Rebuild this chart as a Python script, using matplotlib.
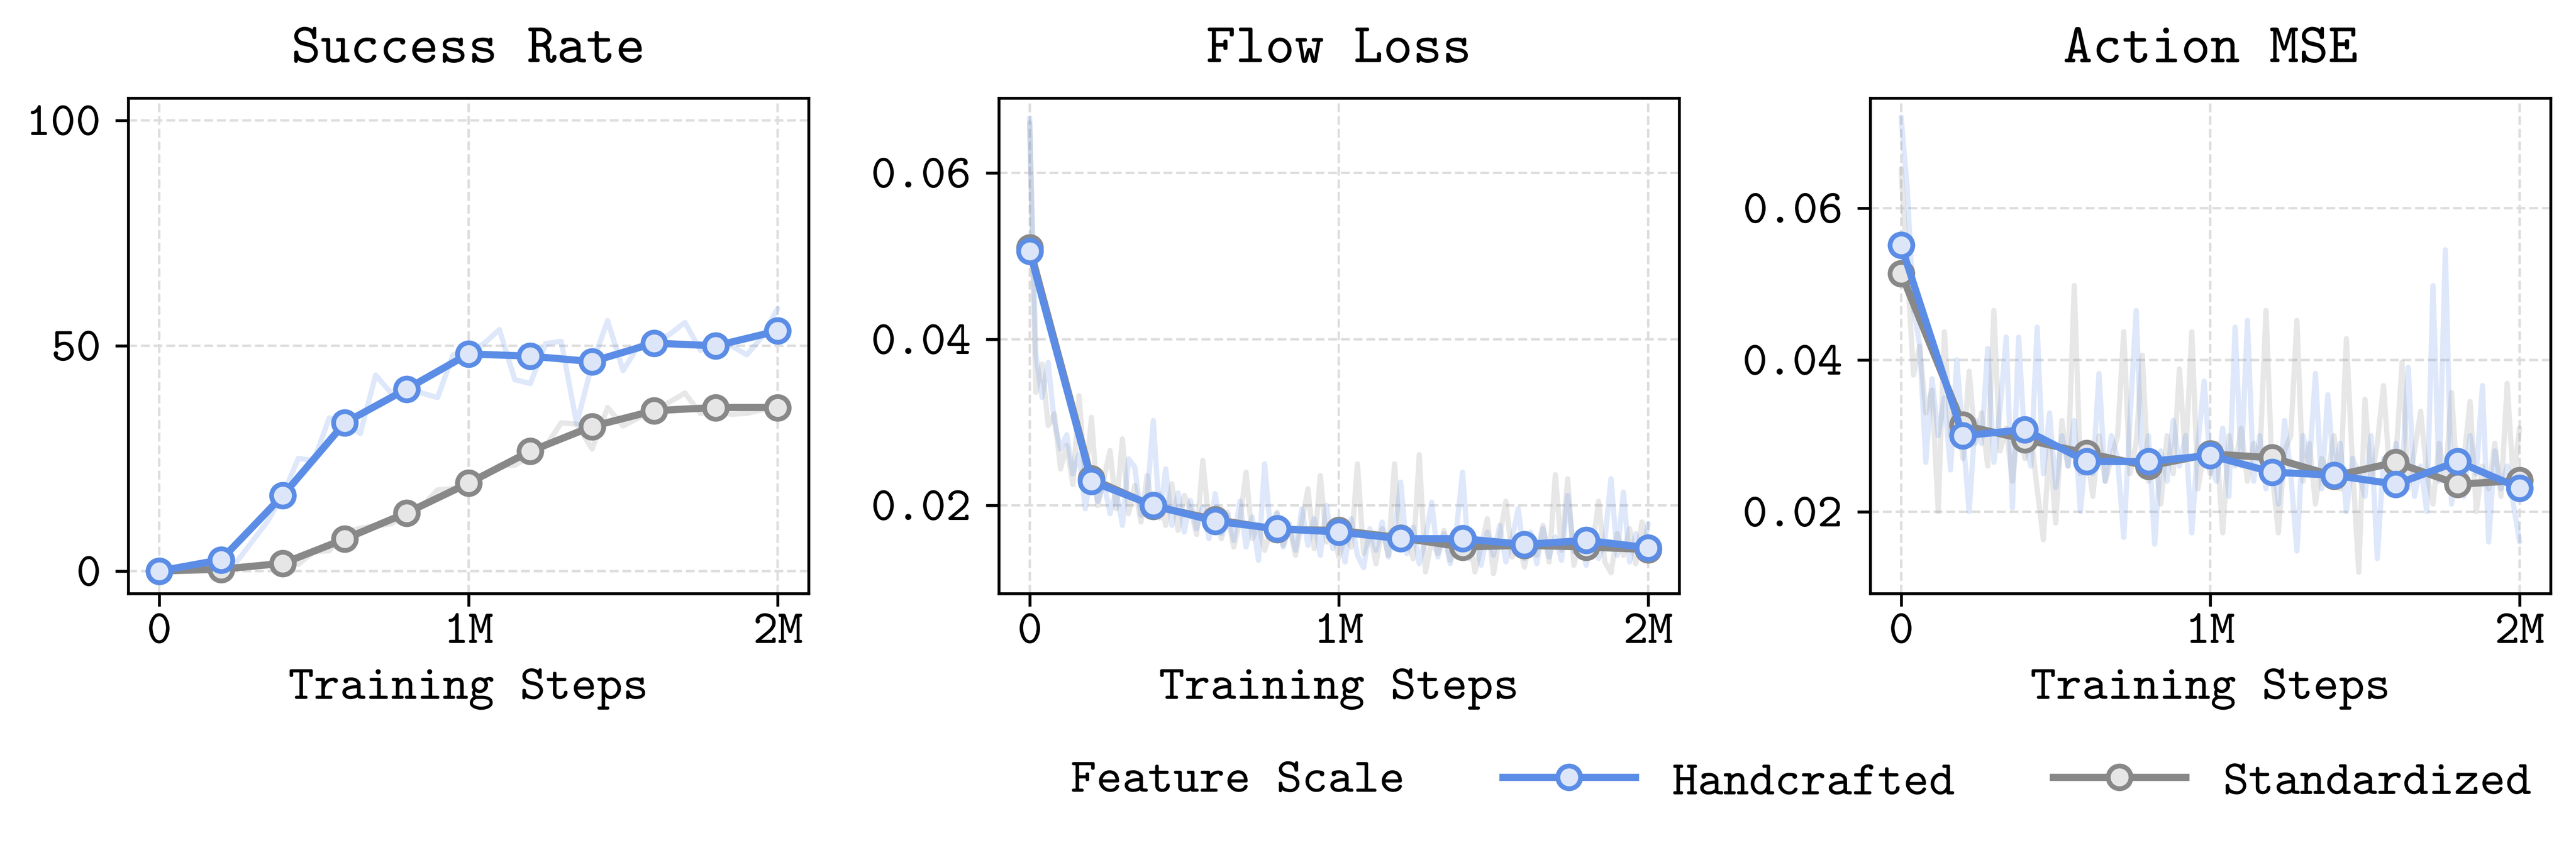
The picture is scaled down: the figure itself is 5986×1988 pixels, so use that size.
import numpy as np
import matplotlib.pyplot as plt
from matplotlib.lines import Line2D

plt.rcParams['font.family'] = 'cmtt10'
plt.rcParams['axes.unicode_minus'] = False

# ---- data ----
eval_steps = np.arange(0, 2_000_001, 200_000)
sr_steps = np.arange(0, 2_000_001, 50_000)
loss_steps = np.arange(0, 2_000_001, 20_000)

# success rate (%), smoothed points
sr_hand = [0, 2.5, 16.8, 32.9, 40.4, 48.2, 47.7, 46.5, 50.6, 50.0, 53.3]
sr_std = [0, 0.4, 1.7, 7.1, 12.9, 19.5, 26.6, 32.1, 35.6, 36.3, 36.3]

# success rate (%), raw evaluations
sr_hand_raw = [0, 0, 0, 0.5, 0.5, 2, 6.5, 11, 17, 25, 24.5, 34, 33, 30.5, 43.5, 39.5,
               41.5, 39.5, 38.5, 48, 48.5, 50.5, 53.6, 42.5, 41.6, 50.5, 51, 32.7, 46,
               55.6, 44.5, 50, 51, 52.5, 55.2, 49, 50.5, 50, 48, 52, 58.3]
sr_std_raw = [0, 0, 0, 0.3, 0.6, 0.8, 1.1, 1.5, 2, 1.5, 4.3, 4.5, 8.5, 9.5, 10, 10.5,
              12.4, 14.3, 18, 18.3, 19.5, 21, 23.4, 23.5, 25.6, 27.7, 32.9, 32.6, 27.1,
              36.3, 32.2, 34, 35.3, 37.5, 39.5, 35, 35.5, 34.8, 35, 35.8, 36]

# flow loss, smoothed points
fl_hand = [0.0506, 0.0229, 0.0200, 0.0181, 0.0172, 0.0168, 0.0160, 0.0160, 0.0153, 0.0158, 0.0149]
fl_std = [0.0510, 0.0232, 0.0199, 0.0183, 0.0171, 0.0170, 0.0161, 0.0150, 0.0152, 0.0150, 0.0147]

# flow loss raw (x 1e-4)
fl_hand_raw = [666, 382, 330, 372, 300, 268, 285, 238, 262, 196, 242, 205, 228, 190, 218,
               176, 256, 246, 188, 210, 302, 185, 244, 176, 215, 168, 206, 172, 198, 160,
               214, 166, 192, 158, 205, 150, 186, 134, 250, 164, 190, 150, 178, 146, 196,
               152, 184, 140, 200, 148, 176, 132, 184, 140, 125, 172, 146, 180, 138, 168,
               228, 142, 174, 130, 160, 204, 138, 166, 130, 170, 240, 136, 162, 128, 168,
               140, 176, 132, 160, 196, 136, 168, 130, 172, 138, 162, 134, 212, 144, 160,
               128, 170, 136, 158, 232, 140, 216, 132, 166, 138, 178]
fl_std_raw = [660, 336, 370, 296, 310, 244, 272, 225, 332, 228, 306, 200, 232, 266, 196,
              280, 190, 224, 180, 236, 192, 214, 176, 226, 170, 212, 196, 165, 254, 178,
              196, 160, 188, 150, 182, 240, 160, 176, 146, 170, 192, 152, 174, 140, 180,
              220, 148, 236, 156, 170, 138, 162, 150, 250, 142, 166, 130, 172, 140, 250,
              150, 164, 136, 261, 120, 158, 142, 170, 134, 156, 146, 168, 120, 150, 184,
              118, 162, 205, 138, 158, 126, 160, 140, 176, 132, 237, 146, 232, 128, 162,
              138, 150, 205, 132, 119, 166, 140, 172, 130, 180, 150]

# action mse, smoothed points
am_hand = [0.0551, 0.0300, 0.0308, 0.0266, 0.0266, 0.0274, 0.0252, 0.0248, 0.0236, 0.0266, 0.0231]
am_std = [0.0514, 0.0314, 0.0295, 0.0277, 0.0260, 0.0276, 0.0271, 0.0247, 0.0265, 0.0236, 0.0241]

# action mse raw (x 1e-4)
am_hand_raw = [720, 625, 468, 420, 265, 375, 300, 350, 255, 400, 300, 200, 320, 290, 415,
               265, 335, 430, 205, 430, 290, 260, 443, 250, 330, 232, 300, 260, 320, 200,
               290, 250, 382, 240, 300, 270, 166, 320, 465, 250, 300, 157, 280, 240, 320,
               260, 300, 172, 290, 372, 260, 240, 310, 220, 443, 260, 452, 240, 300, 230,
               280, 210, 320, 250, 148, 300, 260, 382, 230, 354, 250, 290, 200, 270, 250,
               220, 300, 138, 270, 230, 290, 250, 390, 220, 260, 200, 498, 240, 545, 210,
               270, 220, 300, 250, 366, 160, 280, 230, 260, 210, 160]
am_std_raw = [652, 520, 380, 418, 330, 360, 200, 437, 300, 340, 270, 385, 290, 330, 260,
              465, 280, 310, 240, 320, 270, 300, 230, 163, 290, 185, 320, 260, 498, 250,
              280, 220, 300, 240, 270, 300, 437, 250, 290, 406, 240, 270, 210, 300, 250,
              388, 270, 437, 230, 280, 250, 290, 172, 300, 260, 310, 240, 290, 270, 465,
              250, 172, 280, 300, 452, 240, 290, 210, 270, 250, 300, 230, 428, 260, 120,
              348, 240, 290, 366, 250, 270, 397, 230, 280, 332, 250, 210, 290, 240, 357,
              230, 270, 345, 200, 260, 230, 290, 220, 369, 240, 310]

titles = ['Success Rate', 'Flow Loss', 'Action MSE']
series_names = ['Handcrafted', 'Standardized']

# ---- style ----
BLUE = '#5B8DE6'
BLUE_FACE = '#DCE6F8'
GRAY = '#888888'
GRAY_FACE = '#E6E6E6'
LW, MS, MEW = 3.0, 9.5, 2.0

fig = plt.figure(figsize=(5986 / 400, 1988 / 400), dpi=400)
lefts = [0.0498, 0.3877, 0.7260]
axes = [fig.add_axes([l, 0.3058, 0.2641, 0.5795]) for l in lefts]

panels = [
    (sr_steps, sr_hand_raw, sr_std_raw, sr_hand, sr_std, 1.0, (-5, 105), [0, 50, 100], '{:.0f}'),
    (loss_steps, fl_hand_raw, fl_std_raw, fl_hand, fl_std, 1e-4, (0.0094, 0.069), [0.02, 0.04, 0.06], '{:.2f}'),
    (loss_steps, am_hand_raw, am_std_raw, am_hand, am_std, 1e-4, (0.0092, 0.0745), [0.02, 0.04, 0.06], '{:.2f}'),
]

for ax, title, (xs, h_raw, s_raw, h, s, scale, ylim, yticks, fmt) in zip(axes, titles, panels):
    h_raw = np.array(h_raw) * scale
    s_raw = np.array(s_raw) * scale
    ax.plot(xs, s_raw, color=GRAY, alpha=0.2, lw=2.2, solid_capstyle='round', zorder=2)
    ax.plot(xs, h_raw, color=BLUE, alpha=0.2, lw=2.2, solid_capstyle='round', zorder=2)
    ax.plot(eval_steps, s, color=GRAY, lw=LW, marker='o', ms=MS, mfc=GRAY_FACE,
            mec=GRAY, mew=MEW, zorder=3)
    ax.plot(eval_steps, h, color=BLUE, lw=LW, marker='o', ms=MS, mfc=BLUE_FACE,
            mec=BLUE, mew=MEW, zorder=4)

    ax.set_xlim(-100_000, 2_100_000)
    ax.set_ylim(*ylim)
    ax.set_xticks([0, 1_000_000, 2_000_000])
    ax.set_xticklabels(['0', '1M', '2M'])
    ax.set_yticks(yticks)
    ax.set_yticklabels([fmt.format(v) for v in yticks])
    ax.tick_params(axis='both', labelsize=20, length=5.4, width=1.2)
    ax.tick_params(axis='y', pad=6)
    ax.tick_params(axis='x', pad=3)
    ax.grid(True, color='#DDDDDD', linestyle='--', linewidth=1.0, zorder=0)
    ax.set_axisbelow(True)
    for sp in ax.spines.values():
        sp.set_linewidth(1.2)
    ax.set_title(title, fontsize=23.5, pad=15)
    ax.set_xlabel('Training Steps', fontsize=20.5, labelpad=6)

# legend row
fig.text(2488 / 5986, 0.085, 'Feature Scale', fontsize=20.5, ha='left', va='center')
handles = [
    Line2D([], [], color=BLUE, lw=LW, marker='o', ms=MS, mfc=BLUE_FACE, mec=BLUE, mew=MEW),
    Line2D([], [], color=GRAY, lw=LW, marker='o', ms=MS, mfc=GRAY_FACE, mec=GRAY, mew=MEW),
]
fig.legend(handles, series_names, loc='center left', bbox_to_anchor=(3492 / 5986, 0.085),
           ncol=2, frameon=False, fontsize=20.5, borderpad=0, borderaxespad=0,
           handlelength=2.7, handletextpad=0.76, columnspacing=2.0)

fig.savefig('out.png', dpi=400)
